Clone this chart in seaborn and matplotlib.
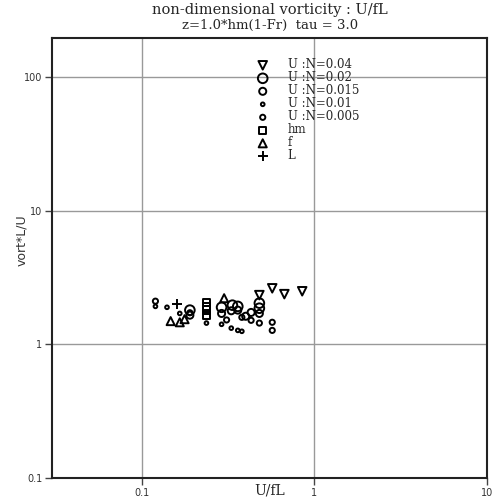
import numpy as np
import pandas as pd
import matplotlib
matplotlib.use("Agg")
import matplotlib.pyplot as plt
import seaborn as sns

# U/fL and vort*L/U for each series
un004_x = [0.48, 0.57, 0.67, 0.85]
un004_y = [2.33, 2.62, 2.37, 2.49]

un002_x = [0.19, 0.29, 0.335, 0.48, 0.48, 0.36]
un002_y = [1.80, 1.89, 1.96, 2.03, 1.86, 1.92]

un0015_x = [0.19, 0.29, 0.36, 0.43, 0.48, 0.33, 0.40]
un0015_y = [1.65, 1.70, 1.80, 1.73, 1.70, 1.78, 1.62]

un001_x = [0.12, 0.14, 0.166, 0.237, 0.29, 0.33, 0.36, 0.38]
un001_y = [1.92, 1.89, 1.70, 1.44, 1.41, 1.32, 1.27, 1.25]

un0005_x = [0.12, 0.38, 0.43, 0.48, 0.57, 0.57, 0.19, 0.31]
un0005_y = [2.10, 1.59, 1.51, 1.44, 1.46, 1.27, 1.72, 1.52]

hm_x = [0.237, 0.237, 0.237, 0.237]
hm_y = [2.05, 1.92, 1.80, 1.65]

f_x = [0.147, 0.166, 0.177, 0.30]
f_y = [1.49, 1.46, 1.54, 2.21]

L_x = [0.159]
L_y = [1.99]

series = [
    ("U :N=0.04", un004_x, un004_y, "v", 38),
    ("U :N=0.02", un002_x, un002_y, "o", 48),
    ("U :N=0.015", un0015_x, un0015_y, "o", 26),
    ("U :N=0.01", un001_x, un001_y, "o", 7),
    ("U :N=0.005", un0005_x, un0005_y, "o", 14),
    ("hm", hm_x, hm_y, "s", 28),
    ("f", f_x, f_y, "^", 34),
    ("L", L_x, L_y, "+", 50),
]

sns.set_style("white")
plt.rcParams["font.family"] = ["DejaVu Serif", "DejaVu Sans"]

fig = plt.figure(figsize=(5.0, 5.03), dpi=100)
ax = fig.add_axes([52 / 500, 1 - 478 / 503, (487 - 52) / 500, (478 - 38) / 503])

for label, xs, ys, mk, s in series:
    df = pd.DataFrame({"x": xs, "y": ys})
    if mk == "+":
        sns.scatterplot(data=df, x="x", y="y", marker=mk, s=s, color="black",
                        linewidth=1.4, ax=ax, label=label)
    else:
        sns.scatterplot(data=df, x="x", y="y", marker=mk, s=s, facecolor="none",
                        edgecolor="black", linewidth=1.4, ax=ax, label=label)

ax.set_xscale("log")
ax.set_yscale("log")
ax.set_xlim(0.0302, 10)
ax.set_ylim(0.1, 195)

ax.set_xticks([0.1, 1, 10])
ax.set_xticklabels(["0.1", "1", "10"])
ax.set_yticks([0.1, 1, 10, 100])
ax.set_yticklabels(["0.1", "1", "10", "100"])
ax.xaxis.set_minor_locator(matplotlib.ticker.NullLocator())
ax.yaxis.set_minor_locator(matplotlib.ticker.NullLocator())
ax.tick_params(axis="both", which="major", direction="out", length=5, width=1,
               color="#444444", labelsize=7, labelcolor="#333333",
               bottom=True, left=True, pad=2)
for lbl in ax.get_xticklabels() + ax.get_yticklabels():
    lbl.set_family("DejaVu Sans")

ax.grid(True, which="major", color="#999999", linewidth=1.0)
for side in ["left", "right", "top", "bottom"]:
    ax.spines[side].set_color("#222222")
    ax.spines[side].set_linewidth(1.5)
    ax.spines[side].set_visible(True)

ax.set_xlabel("U/fL", fontsize=10, va="top")
ax.xaxis.set_label_coords(0.5, -0.012)
ax.set_ylabel("vort*L/U", fontsize=9, family="DejaVu Sans", color="#333333")
ax.yaxis.set_label_coords(-0.055, 0.54)

fig.text(0.54, 0.995, "non-dimensional vorticity : U/fL", ha="center", va="top",
         fontsize=10.5)
fig.text(0.54, 0.962, "z=1.0*hm(1-Fr)  tau = 3.0", ha="center", va="top",
         fontsize=9.5)

leg = ax.legend(loc="upper left", bbox_to_anchor=(0.46, 0.965), frameon=False,
                fontsize=8.5, labelspacing=0.0, handletextpad=1.6,
                borderaxespad=0, handlelength=1.0, handleheight=0.6,
                markerscale=1.0)

fig.savefig("out.png", dpi=100)
